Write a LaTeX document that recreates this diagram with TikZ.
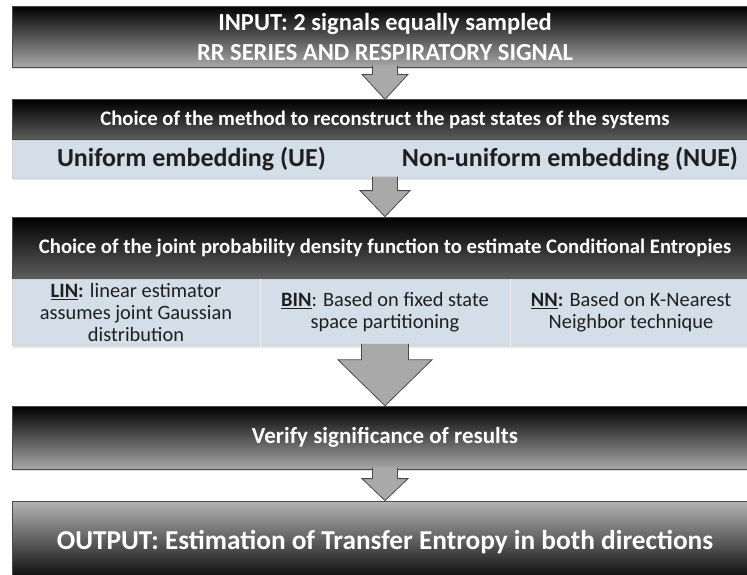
\documentclass[tikz,border=0pt]{standalone}
\usepackage{fontspec}
\setmainfont{Carlito}
\usepackage{tikz}
\usetikzlibrary{positioning,calc,shadows}
\definecolor{BandBlue}{HTML}{D3DEE9}
\definecolor{ArrowGray}{HTML}{A9A9A9}
\definecolor{EdgeGray}{HTML}{4A4A4A}
\definecolor{LightGrad}{HTML}{A8A8A8}
\definecolor{MidGrad}{HTML}{5E5E5E}

% block arrow from one stage to the next: {from}{to}{half stem}{half head}{head length}
\newcommand{\blockarrow}[5]{%
  \draw[blockarr] ($(#1.south)+(-#3,2pt)$) -- ($(#2.north)+(-#3,#5)$) -- ($(#2.north)+(-#4,#5)$)
    -- (#2.north) -- ($(#2.north)+(#4,#5)$) -- ($(#2.north)+(#3,#5)$) -- ($(#1.south)+(#3,2pt)$);}

\begin{document}
\begin{tikzpicture}[node distance=0pt, every node/.style={font=\bfseries, inner sep=0pt}]
\tikzset{stage/.style={draw=EdgeGray, line width=0.8pt, minimum width=746pt, align=center, text=white, top color=black, bottom color=LightGrad, drop shadow={opacity=0.25, shadow xshift=1pt, shadow yshift=-2pt}}}
\tikzset{header/.style={stage, bottom color=MidGrad, font=\fontsize{20.7}{24}\selectfont\bfseries}}
\tikzset{band/.style={draw=EdgeGray!25, fill=BandBlue, minimum width=746pt, drop shadow={opacity=0.2, shadow xshift=1pt, shadow yshift=-2pt}}}
\tikzset{bandtext/.style={text=black!88, align=center, font=\fontsize{20.4}{22}\selectfont}}
\tikzset{blockarr/.style={draw=EdgeGray, fill=ArrowGray, line width=0.8pt, line join=miter}}
\useasboundingbox (0,0) rectangle (747pt,-574pt);
\clip (0,0) rectangle (747pt,-574pt);
\node[stage, minimum height=61pt, font=\fontsize{24.5}{30}\selectfont\bfseries] (in) at (385pt,-36.5pt) {INPUT: 2 signals equally sampled\\RR SERIES AND RESPIRATORY SIGNAL};
\node[header, minimum height=40pt, below=32pt of in] (hdrA) {Choice of the method to reconstruct the past states of the systems};
\node[band, minimum height=38pt, below=0pt of hdrA] (bandA) {};
\node[bandtext, font=\fontsize{26}{30}\selectfont\bfseries, right=45pt of bandA.west] (ue) {Uniform embedding (UE)};
\node[bandtext, font=\fontsize{26}{30}\selectfont\bfseries, left=20pt of bandA.east] (nue) {Non-uniform embedding (NUE)};
\node[header, minimum height=62pt, below=38pt of bandA] (hdrB) {Choice of the joint probability density function to estimate Conditional Entropies};
\node[band, minimum height=66pt, below=0pt of hdrB] (bandB) {};
\draw[white!55!BandBlue] ([xshift=-125pt]bandB.north) -- ([xshift=-125pt]bandB.south);
\draw[white!55!BandBlue] ([xshift=125pt]bandB.north) -- ([xshift=125pt]bandB.south);
\node[bandtext] (lin) at ($(bandB.center)+(-249pt,0)$) {\underline{\textbf{LIN}}\textbf{:} linear estimator\\assumes joint Gaussian\\distribution};
\node[bandtext] (bin) at (bandB.center) {\underline{\textbf{BIN}}: Based on fixed state\\space partitioning};
\node[bandtext] (nn) at ($(bandB.center)+(246pt,0)$) {\underline{\textbf{NN}}\textbf{:} Based on K-Nearest\\Neighbor technique};
\node[stage, minimum height=63pt, below=60pt of bandB, font=\fontsize{23}{28}\selectfont\bfseries] (verify) {Verify significance of results};
\node[stage, minimum height=82pt, below=31pt of verify, top color=LightGrad!85!white, bottom color=black, font=\fontsize{27.3}{32}\selectfont\bfseries] (out) {OUTPUT: Estimation of Transfer Entropy in both directions};
\blockarrow{in}{hdrA}{12.5pt}{23pt}{25pt}
\blockarrow{bandA}{hdrB}{12.5pt}{25pt}{26pt}
\blockarrow{bandB}{verify}{23.5pt}{47pt}{46pt}
\blockarrow{verify}{out}{12.5pt}{23pt}{22pt}
\end{tikzpicture}
\end{document}
